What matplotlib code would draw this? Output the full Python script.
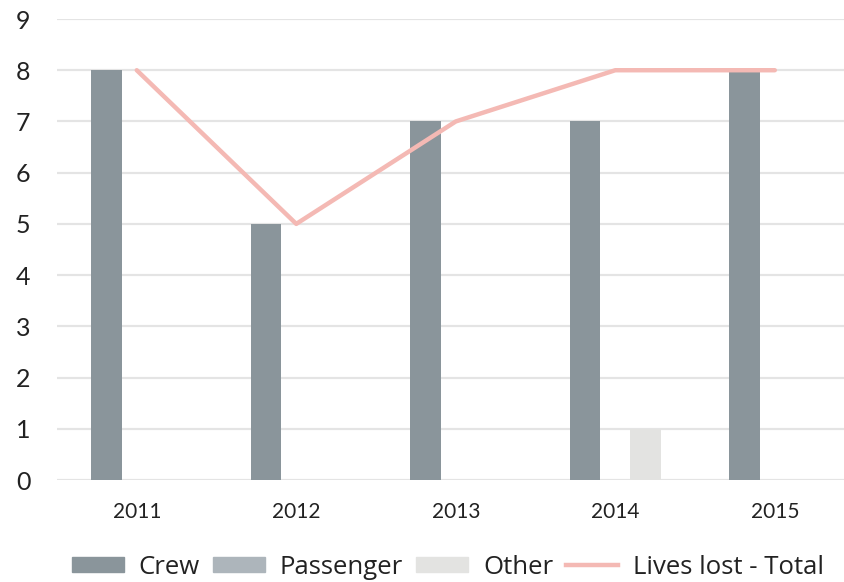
import matplotlib
matplotlib.use("Agg")
import matplotlib.pyplot as plt
import numpy as np
from matplotlib.patches import Patch
from matplotlib.lines import Line2D

years = ["2011", "2012", "2013", "2014", "2015"]
crew = [8, 5, 7, 7, 8]
passenger = [0, 0, 0, 0, 0]
other = [0, 0, 0, 1, 0]
total = [8, 5, 7, 8, 8]

c_crew = "#8a959b"
c_pass = "#adb5bb"
c_other = "#e3e3e1"
c_line = "#f4b9b4"

plt.rcParams["font.family"] = ["Lato", "DejaVu Sans"]

fig = plt.figure(figsize=(8.45, 5.82), dpi=100)
ax = fig.add_axes([57/845, 102/582, 788/845, 461/582])

x = np.arange(len(years))
w = 0.19
ax.bar(x - w, crew, w, color=c_crew, zorder=3)
ax.bar(x, passenger, w, color=c_pass, zorder=3)
ax.bar(x + w, other, w, color=c_other, zorder=3)
ax.plot(x, total, color=c_line, lw=3.2, zorder=4, solid_capstyle="round")

ax.set_xlim(-0.5, 4.44)
ax.set_ylim(0, 9)
ax.set_yticks(range(10))
ax.set_xticks(x)
ax.set_xticklabels(years, fontsize=15, color="#222222")
ax.tick_params(axis="y", labelsize=18, colors="#222222", length=0, pad=19)
ax.tick_params(axis="x", length=0, pad=16)
ax.grid(axis="y", color="#e4e4e4", lw=1.6, zorder=0)
ax.set_axisbelow(True)
for s in ax.spines.values():
    s.set_visible(False)

handles = [Patch(color=c_crew, label="Crew"),
           Patch(color=c_pass, label="Passenger"),
           Patch(color=c_other, label="Other"),
           Line2D([0], [0], color=c_line, lw=3.2, label="Lives lost - Total")]
fig.legend(handles=handles, loc="center", bbox_to_anchor=(448/845, 1 - 567/582),
           ncol=4, frameon=False, handlelength=2.02, handleheight=0.54,
           columnspacing=0.51, handletextpad=0.58, labelcolor="#222222",
           prop={"family": ["Open Sans", "DejaVu Sans"], "size": 18.5})

fig.savefig("out.png", dpi=100)
